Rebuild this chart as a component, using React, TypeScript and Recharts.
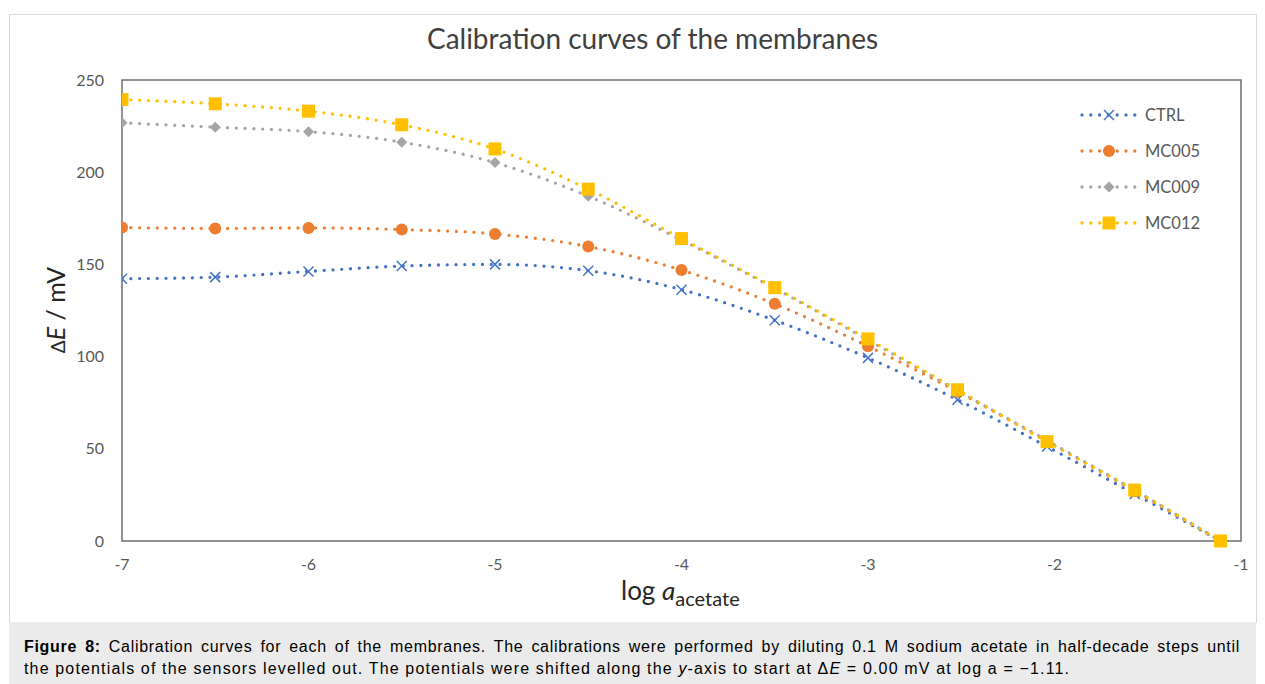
import React from 'react';
import { LineChart, Line, XAxis, YAxis, ReferenceArea } from 'recharts';

// log a(acetate) steps
const logActivity = [-7, -6.5, -6, -5.5, -5, -4.5, -4, -3.5, -3, -2.52, -2.04, -1.57, -1.11];

// ΔE / mV per membrane
const ctrl = [142.2, 143.1, 146.2, 149.1, 150.0, 146.6, 136.3, 119.7, 99.3, 76.6, 51.2, 25.5, 0];
const mc005 = [170.0, 169.5, 169.8, 168.9, 166.5, 159.7, 146.9, 128.6, 105.6, 81.0, 54.0, 27.0, 0];
const mc009 = [226.8, 224.4, 222.0, 216.3, 205.2, 187.0, 163.2, 137.0, 109.0, 81.5, 54.5, 27.5, 0];
const mc012 = [239.4, 237.1, 233.1, 225.7, 212.6, 190.8, 164.0, 137.4, 109.6, 82.0, 53.9, 27.6, 0];

const xTicks = [-7, -6, -5, -4, -3, -2, -1];
const yTicks = [0, 50, 100, 150, 200, 250];

const data = logActivity.map((x, i) => ({
  x,
  CTRL: ctrl[i],
  MC005: mc005[i],
  MC009: mc009[i],
  MC012: mc012[i],
}));

const BLUE = '#4472C4';
const ORANGE = '#ED7D31';
const GRAY = '#A5A5A5';
const GOLD = '#FFC000';
const TEXT = '#595959';
const FONT = 'Lato, "Open Sans", sans-serif';

function CrossMark({ cx, cy }: { cx: number; cy: number }) {
  const s = 5;
  return (
    <g>
      <line x1={cx - s} y1={cy - s} x2={cx + s} y2={cy + s} stroke={BLUE} strokeWidth={1.5} />
      <line x1={cx - s} y1={cy + s} x2={cx + s} y2={cy - s} stroke={BLUE} strokeWidth={1.5} />
    </g>
  );
}

function CircleMark({ cx, cy }: { cx: number; cy: number }) {
  return <circle cx={cx} cy={cy} r={6} fill={ORANGE} />;
}

function DiamondMark({ cx, cy }: { cx: number; cy: number }) {
  const s = 5.5;
  return <polygon points={`${cx},${cy - s} ${cx + s},${cy} ${cx},${cy + s} ${cx - s},${cy}`} fill={GRAY} />;
}

function SquareMark({ cx, cy }: { cx: number; cy: number }) {
  return <rect x={cx - 6.5} y={cy - 6.5} width={13} height={13} fill={GOLD} />;
}

const series = [
  { key: 'CTRL', color: BLUE, Mark: CrossMark },
  { key: 'MC005', color: ORANGE, Mark: CircleMark },
  { key: 'MC009', color: GRAY, Mark: DiamondMark },
  { key: 'MC012', color: GOLD, Mark: SquareMark },
];

function LegendRow({ color, Mark, label, top }: any) {
  return (
    <div style={{ position: 'absolute', left: 1076, top: top - 10, height: 20, display: 'flex', alignItems: 'center' }}>
      <svg width={66} height={20}>
        <line x1={6} y1={10} x2={61} y2={10} stroke={color} strokeWidth={3.3} strokeDasharray="0 8.8" strokeLinecap="round" />
        <Mark cx={33} cy={10} />
      </svg>
      <span style={{ marginLeft: 3, fontSize: 16.5, color: TEXT, fontFamily: FONT }}>{label}</span>
    </div>
  );
}

export default function App() {
  return (
    <div style={{ position: 'absolute', left: 0, top: 0, width: 1265, height: 684, background: '#fff', overflow: 'hidden' }}>
      <div style={{ position: 'absolute', left: 9, top: 14, width: 1246, height: 607, border: '1px solid #d9d9d9' }} />

      <div style={{ position: 'absolute', left: 0, top: 21, width: 1305, textAlign: 'center', fontFamily: FONT, fontSize: 28, color: '#404040' }}>
        Calibration curves of the membranes
      </div>

      <div style={{ position: 'absolute', left: 9, top: 14 }}>
        <LineChart width={1247} height={608} data={data} margin={{ top: 66, right: 15, bottom: 41, left: 53 }}>
          <XAxis
            dataKey="x"
            type="number"
            domain={[-7, -1]}
            ticks={xTicks}
            axisLine={false}
            tickLine={false}
            tickSize={0}
            tickMargin={18}
            height={40}
            allowDataOverflow
            tick={{ fill: TEXT, fontSize: 16, fontFamily: FONT }}
          />
          <YAxis
            type="number"
            domain={[0, 250]}
            ticks={yTicks}
            axisLine={false}
            tickLine={false}
            tickSize={0}
            tickMargin={18}
            width={60}
            tick={{ fill: TEXT, fontSize: 16, fontFamily: FONT }}
          />
          <ReferenceArea x1={-7} x2={-1} y1={0} y2={250} fill="none" stroke="#6f6f6f" strokeWidth={1.5} />
          {series.map(({ key, color, Mark }) => (
            <Line
              key={key}
              dataKey={key}
              type="monotone"
              stroke={color}
              strokeWidth={3.3}
              strokeDasharray="0 8.8"
              strokeLinecap="round"
              isAnimationActive={false}
              activeDot={false}
              dot={(p: any) => <Mark key={`${key}-${p.index}`} cx={p.cx} cy={p.cy} />}
            />
          ))}
        </LineChart>
      </div>

      {series.map((s, i) => (
        <LegendRow key={s.key} color={s.color} Mark={s.Mark} label={s.key} top={115 + i * 36} />
      ))}

      <div
        style={{
          position: 'absolute',
          left: 55,
          top: 310,
          transform: 'translate(-50%, -50%) rotate(-90deg)',
          fontFamily: FONT,
          fontSize: 25,
          color: '#262626',
          whiteSpace: 'nowrap',
        }}
      >
        <span style={{ fontSize: 19 }}>Δ</span>
        <i>E</i> / mV
      </div>
      <div
        style={{
          position: 'absolute',
          left: 621,
          top: 574,
          fontFamily: FONT,
          fontSize: 26,
          color: '#262626',
          whiteSpace: 'nowrap',
        }}
      >
        log <i>a</i>
        <sub style={{ fontSize: 20 }}>acetate</sub>
      </div>

      <div
        style={{
          position: 'absolute',
          left: 9,
          top: 622,
          width: 1247,
          height: 62,
          background: '#ebebeb',
          fontFamily: '"Liberation Sans", Arial, sans-serif',
          fontSize: 16,
          letterSpacing: 0.7,
          lineHeight: '22px',
          color: '#000',
        }}
      >
        <div style={{ position: 'absolute', left: 15, top: 14, width: 1216, whiteSpace: 'nowrap', textAlign: 'justify', textAlignLast: 'justify' }}>
          <b>Figure 8:</b> Calibration curves for each of the membranes. The calibrations were performed by diluting 0.1 M sodium
          acetate in half-decade steps until
        </div>
        <div style={{ position: 'absolute', left: 15, top: 36, whiteSpace: 'nowrap', letterSpacing: 1.15 }}>
          the potentials of the sensors levelled out. The potentials were shifted along the <i>y</i>-axis to start at Δ
          <i>E</i> = 0.00 mV at log a = −1.11.
        </div>
      </div>
    </div>
  );
}
